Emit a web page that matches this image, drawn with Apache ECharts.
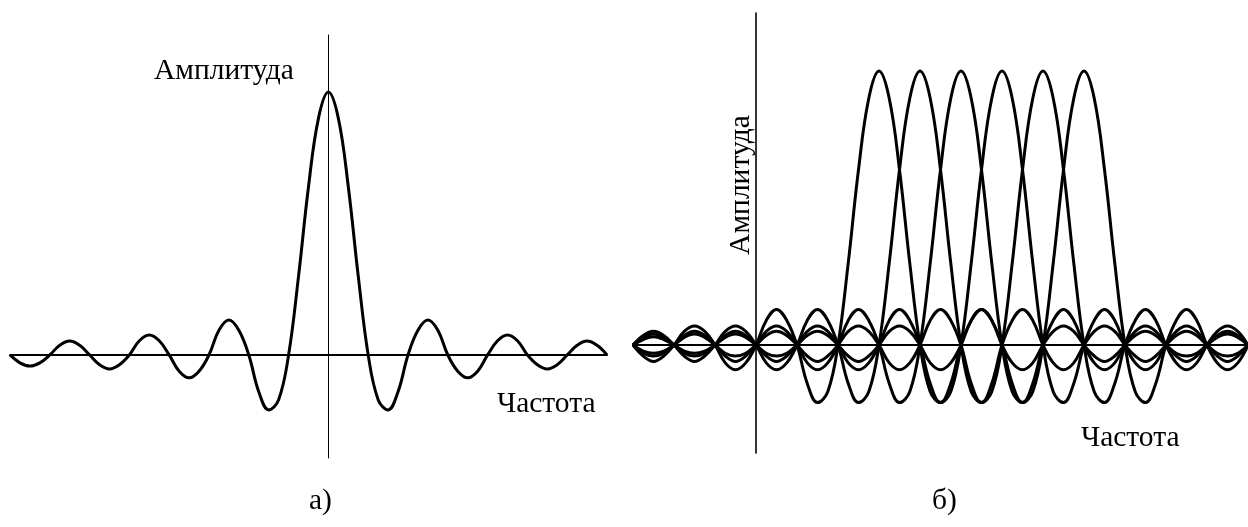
<!DOCTYPE html>
<html>
<head>
<meta charset="utf-8">
<script src="https://cdn.jsdelivr.net/npm/echarts@6/dist/echarts.min.js"></script>
<style>
html,body{margin:0;padding:0;background:#fff;}
#chart{width:1248px;height:527px;}
</style>
</head>
<body>
<div id="chart"></div>
<script>
// ---- Panel a): single sinc spectrum (frequency in sub-carrier spacings, amplitude normalised) ----
const freqA = [-8,-7.75,-7.5,-7.25,-7,-6.75,-6.5,-6.25,-6,-5.75,-5.5,-5.25,-5,-4.75,-4.5,-4.25,-4,-3.75,-3.5,-3.25,-3,-2.75,-2.5,-2.25,-2,-1.75,-1.5,-1.25,-1,-0.75,-0.5,-0.25,
               0,0.25,0.5,0.75,1,1.25,1.5,1.75,2,2.25,2.5,2.75,3,3.25,3.5,3.75,4,4.25,4.5,4.75,5,5.25,5.5,5.75,6,6.25,6.5,6.75,7];
const ampA  = [0,-0.03,-0.042,-0.03,0,0.037,0.053,0.037,0,-0.037,-0.053,-0.037,0,0.054,0.076,0.054,0,-0.062,-0.087,-0.062,0,0.094,0.133,0.094,0,-0.14,-0.209,-0.17,0,0.30,0.64,0.90,
               1,0.90,0.64,0.30,0,-0.17,-0.209,-0.14,0,0.094,0.133,0.094,0,-0.062,-0.087,-0.062,0,0.054,0.076,0.054,0,-0.037,-0.053,-0.037,0,0.037,0.053,0.037,0];

// ---- Panel б): six overlapping sub-carriers ----
const freqB = [-3,-2.75,-2.5,-2.25,-2,-1.75,-1.5,-1.25,-1,-0.75,-0.5,-0.25,0,0.25,0.5,0.75,1,1.25,1.5,1.75,2,2.25,2.5,2.75,3,3.25,3.5,3.75,4,4.25,4.5,4.75,
               5,5.25,5.5,5.75,6,6.25,6.5,6.75,7,7.25,7.5,7.75,8,8.25,8.5,8.75,9,9.25,9.5,9.75,10,10.25,10.5,10.75,11,11.25,11.5,11.75,12];
// centre frequency of each sub-carrier (peak positions)
const carrierCentres = [3, 4, 5, 6, 7, 8];
// amplitude of one sub-carrier read at distance 0, 0.25, 0.5 ... 11 from its centre (same on both sides)
const lobeProfile = [1,0.90,0.64,0.30,0,-0.17,-0.21,-0.14,0,0.09,0.13,0.09,0,-0.065,-0.09,-0.065,0,0.05,0.07,0.05,0,-0.04,-0.06,-0.04,
                     0,0.035,0.05,0.035,0,-0.03,-0.04,-0.03,0,0.028,0.04,0.028,0,-0.022,-0.03,-0.022,0,0.02,0.03,0.02,0];

// ---- Texts ----
const labelAmp = 'Амплитуда';
const labelFreq = 'Частота';
const captionA = 'а)';
const captionB = 'б)';

const FONT = '"Liberation Serif","DejaVu Serif",serif';
const FS = 29.5;

const chart = echarts.init(document.getElementById('chart'), null, {renderer: 'canvas'});

const hiddenAxisBits = {
  axisTick: {show: false},
  axisLabel: {show: false},
  splitLine: {show: false}
};

const curveStyle = {color: '#000', width: 3};

const series = [{
  type: 'line', xAxisIndex: 0, yAxisIndex: 0,
  data: freqA.map((f, i) => [f, ampA[i]]), smooth: 0.4, showSymbol: false, symbol: 'none',
  lineStyle: curveStyle, silent: true
}];
carrierCentres.forEach(c => {
  series.push({
    type: 'line', xAxisIndex: 1, yAxisIndex: 1,
    data: freqB.map(f => [f, lobeProfile[Math.round(Math.abs(f - c) / 0.25)]]),
    smooth: 0.4, showSymbol: false, symbol: 'none',
    lineStyle: curveStyle, silent: true
  });
});

chart.setOption({
  animation: false,
  backgroundColor: '#fff',
  grid: [
    {left: 10, top: 35, width: 597, height: 423},
    {left: 633, top: 13, width: 622.5, height: 440}
  ],
  xAxis: [
    Object.assign({type: 'value', gridIndex: 0, min: -8, max: 7,
      axisLine: {show: true, onZero: true, lineStyle: {color: '#000', width: 2}}}, hiddenAxisBits),
    Object.assign({type: 'value', gridIndex: 1, min: -3, max: 12,
      axisLine: {show: true, onZero: true, lineStyle: {color: '#000', width: 2}}}, hiddenAxisBits)
  ],
  yAxis: [
    Object.assign({type: 'value', gridIndex: 0, min: -0.392, max: 1.217,
      axisLine: {show: true, onZero: true, lineStyle: {color: '#000', width: 1}}}, hiddenAxisBits),
    Object.assign({type: 'value', gridIndex: 1, min: -0.394, max: 1.212,
      axisLine: {show: true, onZero: true, lineStyle: {color: '#000', width: 1.6}}}, hiddenAxisBits)
  ],
  series: series,
  graphic: [
    {type: 'text', x: 154, y: 71, style: {text: labelAmp, font: FS + 'px ' + FONT, fill: '#000', align: 'left', verticalAlign: 'middle'}},
    {type: 'text', x: 497, y: 404, style: {text: labelFreq, font: FS + 'px ' + FONT, fill: '#000', align: 'left', verticalAlign: 'middle'}},
    {type: 'text', x: 741, y: 185, rotation: Math.PI / 2,
      style: {text: labelAmp, font: FS + 'px ' + FONT, fill: '#000', align: 'center', verticalAlign: 'middle'}},
    {type: 'text', x: 1081, y: 438, style: {text: labelFreq, font: FS + 'px ' + FONT, fill: '#000', align: 'left', verticalAlign: 'middle'}},
    {type: 'text', x: 309, y: 501, style: {text: captionA, font: FS + 'px ' + FONT, fill: '#000', align: 'left', verticalAlign: 'middle'}},
    {type: 'text', x: 932, y: 501, style: {text: captionB, font: FS + 'px ' + FONT, fill: '#000', align: 'left', verticalAlign: 'middle'}}
  ]
});
</script>
</body>
</html>
